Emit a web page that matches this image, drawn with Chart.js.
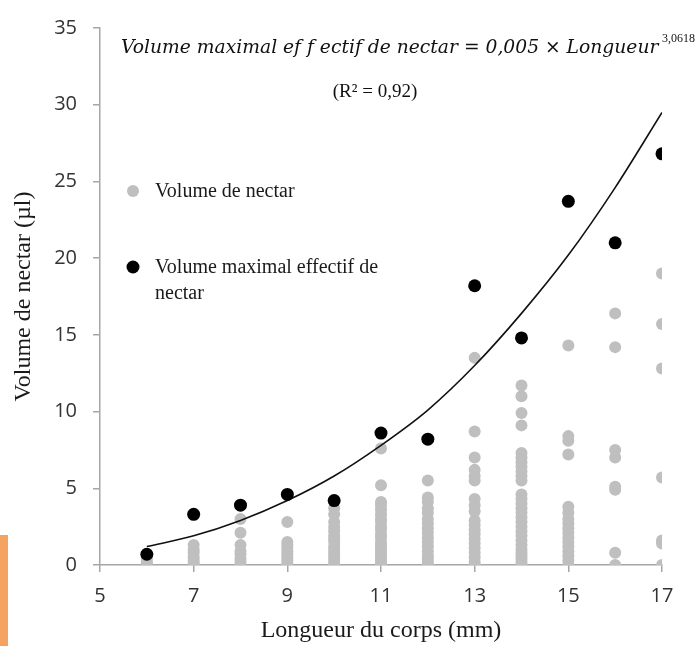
<!DOCTYPE html>
<html>
<head>
<meta charset="utf-8">
<script src="https://cdn.jsdelivr.net/npm/chart.js@4/dist/chart.umd.min.js"></script>
<style>
  body { margin: 0; background: #fff; }
  #wrap { position: relative; width: 695px; height: 646px; }
  #strip { position: absolute; left: 0; top: 535px; width: 8px; height: 111px; background: #f4a460; }
</style>
</head>
<body>
<div id="wrap">
  <canvas id="nectarChart" width="695" height="646"></canvas>
  <div id="strip"></div>
</div>
<script>
// data
var lengths = [6, 7, 8, 9, 10, 11, 12, 13, 14, 15, 16, 17];

// max effective nectar volume (black dots)
var maxVolume = [0.7, 3.3, 3.9, 4.6, 4.2, 8.6, 8.2, 18.2, 14.8, 23.7, 21.0, 26.8];

// nectar volumes (grey dots), one list per body length
var nectarVolumes = [
  [0, 0.1, 0.2, 0.4],
  [0, 0.1, 0.3, 0.5, 0.8, 1.0, 1.3],
  [0, 0.2, 0.4, 0.7, 0.9, 1.3, 2.1, 3.0],
  [0, 0.1, 0.3, 0.5, 0.7, 0.9, 1.1, 1.3, 1.5, 2.8],
  [0, 0.2, 0.4, 0.6, 0.8, 1.0, 1.2, 1.5, 1.7, 1.9, 2.2, 2.5, 2.8, 3.3, 3.7],
  [0, 0.1, 0.3, 0.5, 0.7, 0.9, 1.1, 1.3, 1.5, 1.8, 2.0, 2.3, 2.5, 2.8, 3.0, 3.3, 3.6, 3.9, 4.1, 5.2, 7.6],
  [0, 0.2, 0.4, 0.6, 0.9, 1.2, 1.5, 1.8, 2.1, 2.4, 2.7, 3.0, 3.4, 3.7, 4.1, 4.4, 5.5],
  [0, 0.2, 0.5, 0.8, 1.1, 1.4, 1.7, 2.0, 2.3, 2.6, 2.9, 3.5, 3.9, 4.3, 5.5, 5.8, 6.2, 7.0, 8.7, 13.5],
  [0, 0.2, 0.4, 0.6, 0.8, 1.0, 1.3, 1.6, 1.9, 2.2, 2.5, 2.8, 3.1, 3.4, 3.7, 4.0, 4.3, 4.6, 5.5, 5.8, 6.1, 6.4, 6.7, 7.0, 7.3, 9.1, 9.9, 11.0, 11.7],
  [0, 0.3, 0.6, 0.9, 1.2, 1.5, 1.8, 2.1, 2.4, 2.7, 3.0, 3.4, 3.8, 7.2, 8.1, 8.4, 14.3],
  [0, 0.8, 4.9, 5.1, 7.0, 7.5, 14.2, 16.4],
  [0, 1.4, 1.6, 5.7, 12.8, 15.7, 19.0]
];

// power trend line, read at each length
var trendVolume = [1.2, 1.9, 2.9, 4.2, 5.8, 7.8, 10.1, 13.0, 16.4, 20.2, 24.6, 29.5];

var xTicks = [5, 7, 9, 11, 13, 15, 17];
var yTicks = [0, 5, 10, 15, 20, 25, 30, 35];

var equationText = 'Volume maximal ef f ectif de nectar = 0,005 × Longueur';
var equationExp = '3,0618';
var r2Text = '(R² = 0,92)';

// build point lists
var greyPoints = [];
lengths.forEach(function (len, i) {
  nectarVolumes[i].forEach(function (v) {
    greyPoints.push({ x: len, y: v });
  });
});
var blackPoints = lengths.map(function (len, i) { return { x: len, y: maxVolume[i] }; });
var trendPoints = lengths.map(function (len, i) { return { x: len, y: trendVolume[i] }; });

var axisGrey = '#a6a6a6';
var tickFont = { family: '"Open Sans"', size: 20 };

// equation, R² and legend drawn on top
var annotations = {
  id: 'annotations',
  afterDraw(chart) {
    const ctx = chart.ctx;
    ctx.save();

    // equation
    ctx.fillStyle = '#111';
    ctx.textBaseline = 'alphabetic';
    ctx.textAlign = 'left';
    ctx.font = 'italic 20px "DejaVu Serif"';
    const w = ctx.measureText(equationText).width;
    const size = 20 * 538 / w;
    ctx.font = 'italic ' + size.toFixed(2) + 'px "DejaVu Serif"';
    ctx.fillText(equationText, 121, 53);
    ctx.font = '12px "Liberation Serif"';
    ctx.fillText(equationExp, 662, 42);

    // R²
    ctx.font = '19px "Liberation Serif"';
    ctx.textAlign = 'center';
    ctx.textBaseline = 'middle';
    ctx.fillText(r2Text, 375, 92);

    // legend
    const greyDs = chart.data.datasets[1];
    const blackDs = chart.data.datasets[2];
    ctx.textAlign = 'left';
    ctx.font = '20px "Liberation Serif"';

    ctx.fillStyle = greyDs.backgroundColor;
    ctx.beginPath();
    ctx.arc(133, 191, 6, 0, Math.PI * 2);
    ctx.fill();
    ctx.fillStyle = '#1a1a1a';
    ctx.fillText(greyDs.label, 155, 192);

    ctx.fillStyle = blackDs.backgroundColor;
    ctx.beginPath();
    ctx.arc(133, 267, 6.5, 0, Math.PI * 2);
    ctx.fill();
    ctx.fillStyle = '#1a1a1a';
    ctx.fillText('Volume maximal effectif de', 155, 268);
    ctx.fillText('nectar', 155, 294);

    ctx.restore();
  }
};

var config = {
  type: 'scatter',
  data: {
    datasets: [
      {
        label: 'Tendance',
        data: trendPoints,
        showLine: true,
        borderColor: '#111',
        borderWidth: 1.6,
        pointRadius: 0,
        cubicInterpolationMode: 'monotone',
        order: 2
      },
      {
        label: 'Volume de nectar',
        data: greyPoints,
        backgroundColor: '#bfbfbf',
        borderWidth: 0,
        pointRadius: 6,
        order: 3
      },
      {
        label: 'Volume maximal effectif de nectar',
        data: blackPoints,
        backgroundColor: '#000000',
        borderWidth: 0,
        pointRadius: 6.5,
        order: 1
      }
    ]
  },
  options: {
    responsive: false,
    animation: false,
    layout: { padding: { top: 15, right: 33, left: 0, bottom: 0 } },
    plugins: {
      legend: { display: false },
      tooltip: { enabled: false }
    },
    scales: {
      x: {
        type: 'linear',
        min: 5,
        max: 17,
        afterBuildTicks: function (scale) {
          scale.ticks = xTicks.map(function (v) { return { value: v }; });
        },
        afterFit: function (scale) { scale.height = 81; },
        ticks: { color: '#333', font: tickFont, padding: 12, maxRotation: 0 },
        grid: { drawOnChartArea: false, tickLength: 7, color: axisGrey, lineWidth: 1.5 },
        border: { color: axisGrey, width: 1.5 },
        title: {
          display: true,
          text: 'Longueur du corps (mm)',
          color: '#1a1a1a',
          font: { family: '"Liberation Serif"', size: 24 },
          padding: { top: 0, bottom: 1 }
        }
      },
      y: {
        min: 0,
        max: 35,
        afterBuildTicks: function (scale) {
          scale.ticks = yTicks.map(function (v) { return { value: v }; });
        },
        afterFit: function (scale) { scale.width = 100; },
        ticks: { color: '#333', font: tickFont, padding: 16 },
        grid: { drawOnChartArea: false, tickLength: 7, color: axisGrey, lineWidth: 1.5 },
        border: { color: axisGrey, width: 1.5 },
        title: {
          display: true,
          text: 'Volume de nectar (µl)',
          color: '#1a1a1a',
          font: { family: '"Liberation Serif"', size: 24 },
          padding: { top: 9, bottom: 0 }
        }
      }
    }
  },
  plugins: [annotations]
};

var nectarChart = new Chart(document.getElementById('nectarChart'), config);
</script>
</body>
</html>
